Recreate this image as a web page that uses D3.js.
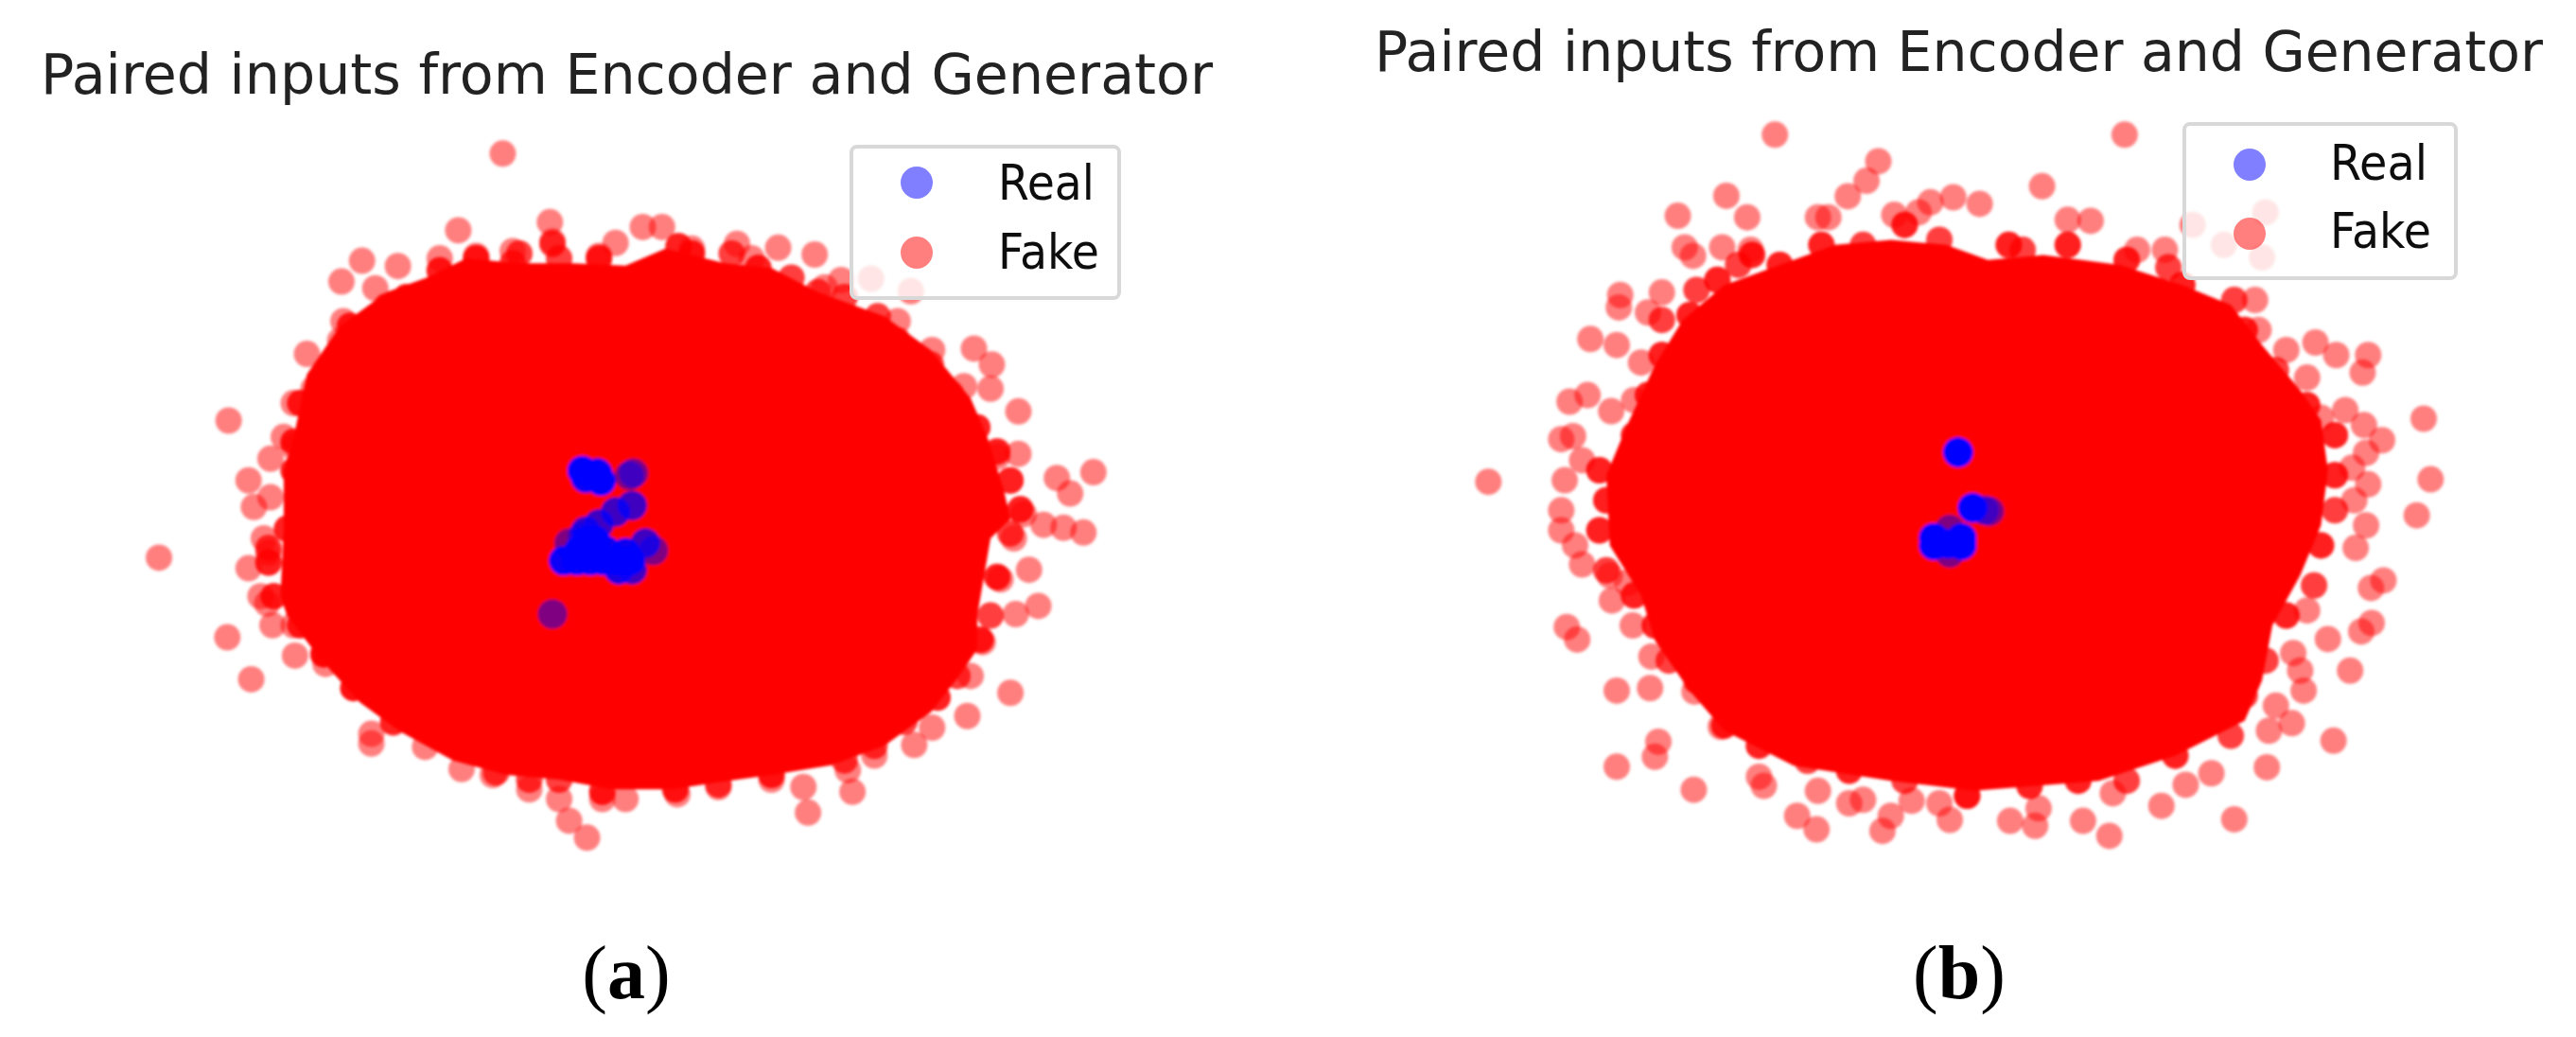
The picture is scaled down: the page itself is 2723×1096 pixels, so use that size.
<!DOCTYPE html>
<html><head><meta charset="utf-8">
<style>html,body{margin:0;background:#fff;overflow:hidden}svg{display:block}</style>
<script src="https://cdn.jsdelivr.net/npm/d3@7"></script></head><body>
<script>
const titleText = "Paired inputs from Encoder and Generator";
const legendLabels = ["Real", "Fake"];
const captionLetters = ["a", "b"];

// Values, in arbitrary plot units (the axes are hidden).
// core = outline of the saturated mass, edge = [x, y, overlapping points], fake/real = single readings.
const coreA = [[500,340],[560,300],[640,310],[720,310],[800,315],[860,280],[950,310],[1020,320],[1090,370],[1190,420],[1260,490],[1320,590],[1345,670],[1370,780],[1380,840],[1350,880],[1340,960],[1330,1040],[1330,1110],[1300,1170],[1260,1240],[1190,1310],[1110,1350],[1020,1370],[940,1385],[870,1400],[780,1400],[700,1380],[620,1370],[540,1340],[460,1280],[400,1220],[340,1130],[290,1040],[280,1000],[285,860],[285,740],[300,670],[320,540],[370,440],[440,370]];
const edgeA = [[470,380,3],[520,325,3],[575,300,3],[630,310,2],[640,290,2],[690,270,2],[700,300,2],[760,300,3],[880,275,3],[900,290,3],[960,290,2],[1000,320,3],[1050,340,2],[1090,370,2],[1130,380,2],[1180,420,2],[1210,470,2],[1260,520,2],[1290,580,2],[1330,650,3],[1360,700,3],[1380,760,3],[1395,820,3],[1380,870,2],[1360,960,3],[1350,1040,2],[1335,1090,3],[1300,1165,2],[1270,1210,3],[1220,1260,2],[1175,1310,2],[1130,1340,2],[1100,1320,3],[1020,1370,3],[940,1390,2],[875,1400,3],[765,1405,3],[700,1380,2],[655,1380,2],[605,1365,2],[530,1300,3],[450,1260,2],[390,1190,3],[345,1120,4],[310,1060,3],[270,1000,3],[262,930,3],[262,900,2],[290,860,3],[300,740,3],[300,680,3],[310,600,3],[340,560,3],[385,440,3],[440,400,3]];
const fakeA = [[615,83],[548,242],[686,225],[690,265],[403,305],[457,316],[372,348],[423,362],[826,235],[855,235],[785,268],[968,270],[1030,278],[1085,292],[1125,345],[1170,342],[1230,368],[320,498],[370,470],[390,520],[202,636],[265,715],[232,760],[265,795],[240,815],[255,880],[97,920],[232,942],[262,910],[260,1015],[268,1060],[200,1085],[236,1172],[302,1123],[345,1120],[348,1140],[390,1190],[345,1075],[450,1262],[417,1285],[417,1305],[498,1312],[553,1358],[600,1370],[655,1400],[700,1420],[715,1465],[742,1500],[765,1420],[800,1420],[878,1410],[940,1395],[1020,1380],[1068,1395],[1075,1448],[1142,1405],[1135,1360],[1175,1330],[1235,1308],[1262,1272],[1315,1248],[1320,1165],[1380,1200],[1338,1095],[1388,1037],[1422,1020],[1365,965],[1408,945],[1385,880],[1490,868],[1460,858],[1430,852],[1400,830],[1470,787],[1450,755],[1505,743],[1392,705],[1360,710],[1392,617],[1350,570],[1352,520],[1325,487],[1262,490],[1310,565],[1210,430],[520,300],[575,295],[630,285],[760,295],[900,280],[990,300],[1100,360],[300,600],[330,570],[375,430],[300,690],[285,670],[250,1000],[300,1060]];
const realA = [[735,740,6],[750,750,6],[763,761,6],[740,755,4],[758,745,4],[812,745,1],[806,750,1],[810,812,2],[785,825,2],[760,850,2],[740,865,2],[735,875,1],[707,926,5],[727,926,5],[747,926,5],[767,926,5],[787,926,5],[807,926,5],[730,905,5],[750,905,5],[770,905,4],[800,910,4],[740,885,5],[755,885,5],[715,890,1],[830,890,2],[842,905,1],[790,945,3],[810,945,2],[690,1037,1]];

const coreB = [[520,340],[600,300],[680,290],[760,300],[820,330],[900,320],[1010,340],[1100,380],[1170,420],[1215,500],[1270,590],[1300,650],[1310,750],[1300,860],[1270,960],[1230,1060],[1215,1170],[1190,1250],[1090,1320],[980,1370],[800,1390],[680,1370],[540,1340],[440,1270],[390,1190],[340,1090],[320,1000],[275,900],[270,760],[300,660],[340,540],[380,450],[440,380]];
const edgeB = [[520,340,3],[480,320,3],[580,300,3],[640,300,2],[700,260,3],[750,290,2],[850,300,3],[870,310,2],[935,300,3],[1020,330,3],[1080,345,2],[1100,380,3],[1175,410,2],[1190,470,3],[1235,550,2],[1280,620,3],[1320,680,3],[1320,760,3],[1320,830,2],[1300,900,3],[1290,980,2],[1250,1040,3],[1220,1130,2],[1190,1200,2],[1170,1280,2],[1090,1320,3],[1020,1370,2],[950,1370,3],[880,1380,3],[790,1400,4],[700,1370,2],[620,1350,3],[560,1330,2],[490,1300,3],[440,1260,3],[400,1170,3],[360,1130,2],[340,1060,3],[310,1000,3],[270,950,2],[260,870,3],[270,810,3],[260,750,3],[310,680,3],[330,600,3],[350,520,3],[390,440,3],[350,450,2],[430,370,3],[400,390,2],[460,340,2]];
const fakeB = [[513,80],[1017,80],[662,133],[645,172],[618,203],[443,202],[373,242],[473,245],[575,245],[590,245],[685,240],[720,235],[737,215],[770,205],[808,218],[898,183],[935,250],[968,252],[1115,260],[1220,235],[1160,300],[1215,325],[1035,310],[1075,310],[383,305],[395,322],[437,305],[478,310],[290,400],[288,425],[350,395],[330,435],[247,488],[285,500],[320,535],[217,613],[243,600],[277,632],[310,610],[205,688],[222,682],[235,730],[210,770],[100,773],[205,830],[205,870],[225,900],[235,938],[278,1010],[275,960],[300,975],[213,1063],[228,1088],[308,1060],[335,1122],[285,1190],[333,1185],[397,1192],[345,1292],[340,1322],[285,1342],[396,1388],[435,1262],[490,1362],[497,1380],[545,1440],[573,1467],[575,1390],[620,1415],[640,1408],[668,1470],[680,1440],[710,1410],[750,1415],[765,1448],[852,1450],[888,1460],[893,1425],[957,1450],[995,1480],[1000,1395],[1070,1420],[1105,1378],[1142,1355],[1175,1447],[1222,1343],[1318,1290],[1258,1255],[1225,1270],[1235,1220],[1275,1190],[1270,1150],[1260,1115],[1342,1150],[1310,1087],[1280,1030],[1373,1055],[1358,1072],[1390,970],[1372,985],[1350,905],[1365,860],[1438,840],[1458,768],[1348,810],[1368,778],[1345,745],[1365,715],[1448,647],[1388,690],[1362,660],[1335,630],[1300,645],[1280,565],[1250,510],[1292,495],[1322,520],[1368,520],[1360,555],[1210,470],[1205,410],[1180,480]];
const realB = [[777,714,8],[798,825,7],[815,830,1],[822,832,1],[742,885,6],[742,900,6],[762,897,6],[782,885,6],[782,900,6],[765,868,1],[765,915,1]];

const panels = [
  {core:coreA, edge:edgeA, fake:fakeA, real:realA, xr:[100,1200], yr:[120,920], letter:captionLetters[0],
   title:{x:43,w:1239,y:99}, legend:{x:900,y:155,w:283,h:160,mx:969,my:[193,267],tx:1055,ty:[211,284],tw:102}, cap:{x:662,y:1055}},
  {core:coreB, edge:edgeB, fake:fakeB, real:realB, xr:[1500,2650], yr:[100,930], letter:captionLetters[1],
   title:{x:1453,w:1235,y:75}, legend:{x:2309,y:131,w:287,h:163,mx:2378,my:[174,247],tx:2463,ty:[190,262],tw:103}, cap:{x:2071,y:1055}}
];

const svg = d3.select("body").append("svg").attr("width",2723).attr("height",1096);
const defs = svg.append("defs");
defs.append("filter").attr("id","soft").attr("x","-5%").attr("y","-5%").attr("width","110%").attr("height","110%")
  .append("feGaussianBlur").attr("stdDeviation",1.4);
defs.append("filter").attr("id","softText").attr("x","-5%").attr("y","-20%").attr("width","110%").attr("height","140%")
  .append("feGaussianBlur").attr("stdDeviation",0.6);

panels.forEach(p=>{
  const x = d3.scaleLinear().domain([0,1568]).range(p.xr);
  const y = d3.scaleLinear().domain([0,1568]).range(p.yr);
  const g = svg.append("g");
  const marks = g.append("g").attr("filter","url(#soft)");
  marks.append("path").datum(p.core)
    .attr("d", d3.line().x(d=>x(d[0])).y(d=>y(d[1])).curve(d3.curveLinearClosed))
    .attr("fill","#f00");
  const expand = a => a.flatMap(d=>d3.range(d[2]).map(()=>d));
  marks.selectAll("circle.edge").data(expand(p.edge)).join("circle").attr("class","edge")
    .attr("cx",d=>x(d[0])).attr("cy",d=>y(d[1])).attr("r",14).attr("fill","#f00").attr("fill-opacity",.5);
  marks.selectAll("circle.fake").data(p.fake).join("circle").attr("class","fake")
    .attr("cx",d=>x(d[0])).attr("cy",d=>y(d[1])).attr("r",14).attr("fill","#f00").attr("fill-opacity",.5);
  marks.selectAll("circle.real").data(expand(p.real)).join("circle").attr("class","real")
    .attr("cx",d=>x(d[0])).attr("cy",d=>y(d[1])).attr("r",15.5).attr("fill","#00f").attr("fill-opacity",.5);

  const L = p.legend;
  g.append("rect").attr("x",L.x).attr("y",L.y).attr("width",L.w).attr("height",L.h).attr("rx",6)
    .attr("fill","#fff").attr("fill-opacity",.8).attr("stroke","#d8d8d8").attr("stroke-width",4);
  const lg = g.append("g").attr("filter","url(#softText)");
  legendLabels.forEach((t,i)=>{
    lg.append("circle").attr("cx",L.mx).attr("cy",L.my[i]).attr("r",17)
      .attr("fill",i?"#f00":"#00f").attr("fill-opacity",.5);
    lg.append("text").attr("x",L.tx).attr("y",L.ty[i]).text(t)
      .attr("font-family","DejaVu Sans").attr("font-size",52).attr("fill","#111")
      .attr("textLength",t==="Real"?L.tw:107).attr("lengthAdjust","spacingAndGlyphs");
  });
  g.append("text").attr("x",p.title.x).attr("y",p.title.y).text(titleText)
    .attr("font-family","DejaVu Sans").attr("font-size",58).attr("fill","#222")
    .attr("textLength",p.title.w).attr("lengthAdjust","spacingAndGlyphs").attr("filter","url(#softText)");
  const c = g.append("text").attr("x",p.cap.x).attr("y",p.cap.y).attr("text-anchor","middle")
    .attr("font-family","Liberation Serif").attr("font-size",80).attr("fill","#000");
  c.append("tspan").text("(");
  c.append("tspan").attr("font-weight","bold").text(p.letter);
  c.append("tspan").text(")");
});
</script></body></html>
